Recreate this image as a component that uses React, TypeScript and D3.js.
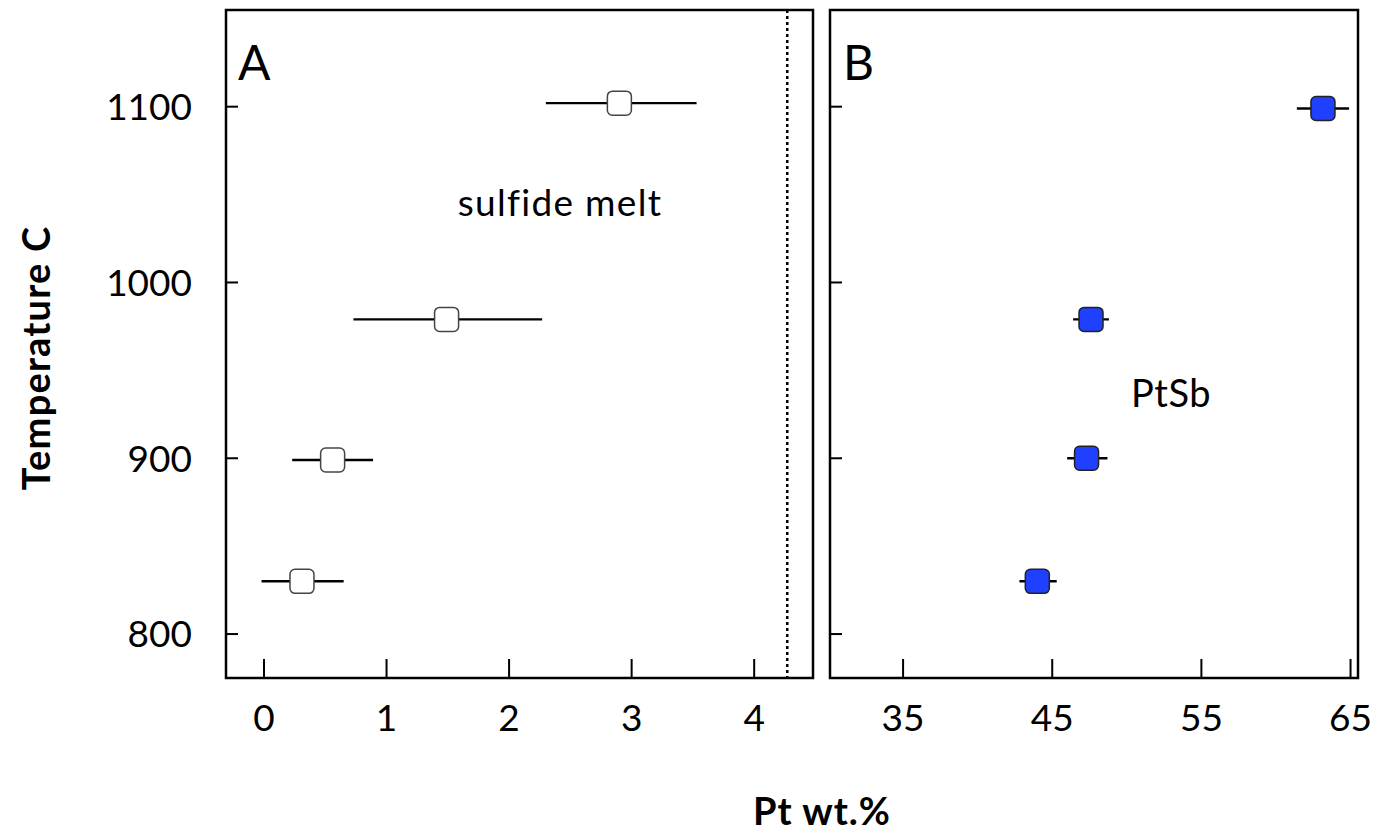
import React from "react";
import * as d3 from "d3";

const tempA = [1102, 979, 899, 830];
const ptA = [2.9, 1.49, 0.56, 0.31];
const ptALo = [2.3, 0.73, 0.23, -0.02];
const ptAHi = [3.53, 2.27, 0.89, 0.65];

const tempB = [1099, 979, 900, 830];
const ptB = [63.15, 47.6, 47.3, 44.0];
const ptBLo = [61.4, 46.4, 46.0, 42.8];
const ptBHi = [64.9, 48.8, 48.7, 45.3];

const yTicks = [800, 900, 1000, 1100];
const xTicksA = [0, 1, 2, 3, 4];
const xTicksB = [35, 45, 55, 65];
const meltLimit = 4.27;

const FONT = "Lato, 'Open Sans', sans-serif";

export default function App() {
  const W = 1386, H = 837;
  const top = 10, bottom = 678;
  const y = d3.scaleLinear().domain([775, 1155]).range([bottom, top]);
  const xA = d3.scaleLinear().domain([-0.31, 4.48]).range([226, 813]);
  const xB = d3.scaleLinear().domain([30.1, 65.5]).range([830, 1358]);
  const ms = 24;

  const panel = (x: d3.ScaleLinear<number, number>, ticks: number[]) => {
    const [x0, x1] = x.range();
    return (
      <g>
        {yTicks.map((t) => (
          <line key={"y" + t} x1={x0} x2={x0 + 12} y1={y(t)} y2={y(t)} stroke="#000" strokeWidth={2} />
        ))}
        {ticks.map((t) => (
          <g key={"x" + t}>
            <line x1={x(t)} x2={x(t)} y1={bottom} y2={bottom - 19} stroke="#000" strokeWidth={2} />
            <text x={x(t)} y={731} textAnchor="middle" fontSize={37} fontFamily={FONT} fill="#000">
              {t}
            </text>
          </g>
        ))}
        <rect x={x0} y={top} width={x1 - x0} height={bottom - top} fill="none" stroke="#000" strokeWidth={2.5} />
      </g>
    );
  };

  return (
    <svg width={W} height={H} style={{ position: "absolute", left: 0, top: 0, background: "#fff" }}>
      <rect x={0} y={0} width={W} height={H} fill="#fff" />
      {panel(xA, xTicksA)}
      {panel(xB, xTicksB)}
      {yTicks.map((t) => (
        <text key={t} x={192} y={y(t)} dy="0.36em" textAnchor="end" fontSize={37} fontFamily={FONT} fill="#000">
          {t}
        </text>
      ))}
      <line x1={xA(meltLimit)} x2={xA(meltLimit)} y1={top} y2={bottom} stroke="#000" strokeWidth={2.5} strokeDasharray="3,3" />
      {tempA.map((t, i) => (
        <g key={"a" + i}>
          <line x1={xA(ptALo[i])} x2={xA(ptAHi[i])} y1={y(t)} y2={y(t)} stroke="#000" strokeWidth={2.4} />
          <rect x={xA(ptA[i]) - ms / 2} y={y(t) - ms / 2} width={ms} height={ms} rx={5} fill="#fff" stroke="#444" strokeWidth={1.5} />
        </g>
      ))}
      {tempB.map((t, i) => (
        <g key={"b" + i}>
          <line x1={xB(ptBLo[i])} x2={xB(ptBHi[i])} y1={y(t)} y2={y(t)} stroke="#000" strokeWidth={2.4} />
          <rect x={xB(ptB[i]) - ms / 2} y={y(t) - ms / 2} width={ms} height={ms} rx={5} fill="#2040ff" stroke="#222" strokeWidth={1.5} />
        </g>
      ))}
      <text x={238} y={80} fontSize={48} fontFamily={FONT} fill="#000">A</text>
      <text x={843} y={80} fontSize={48} fontFamily={FONT} fill="#000">B</text>
      <text x={560} y={216} textAnchor="middle" fontSize={37} letterSpacing={1.3} fontFamily={FONT} fill="#000">sulfide melt</text>
      <text x={1171} y={407} textAnchor="middle" fontSize={38} letterSpacing={0.5} fontFamily={FONT} fill="#000">PtSb</text>
      <text x={822} y={825} textAnchor="middle" fontSize={38} letterSpacing={1} fontWeight="bold" fontFamily={FONT} fill="#000">Pt wt.%</text>
      <text transform={`translate(50,358) rotate(-90)`} textAnchor="middle" fontSize={38} letterSpacing={1.2} fontWeight="bold" fontFamily={FONT} fill="#000">
        Temperature C
      </text>
    </svg>
  );
}
